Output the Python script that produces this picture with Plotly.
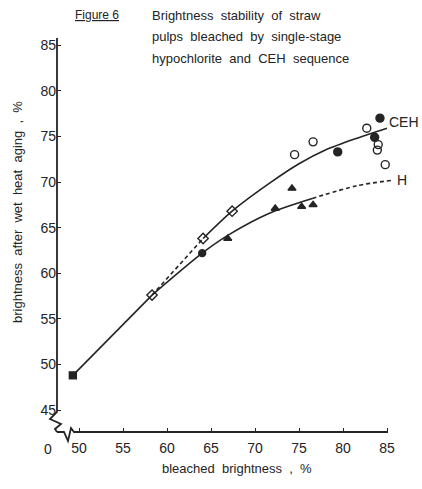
import plotly.graph_objects as go

# ---------------- data ----------------
start_x = [49.3]
start_y = [48.8]

ceh_open_x = [74.5, 76.6, 82.7, 84.0, 83.9, 84.8]
ceh_open_y = [73.0, 74.4, 75.9, 74.1, 73.5, 71.9]
ceh_filled_x = [79.4, 83.6, 84.2]
ceh_filled_y = [73.3, 74.9, 77.0]
ceh_diamond_x = [58.3, 64.1, 67.4]
ceh_diamond_y = [57.6, 63.8, 66.8]

h_tri_x = [66.9, 72.3, 74.2, 75.3, 76.6]
h_tri_y = [63.8, 67.1, 69.3, 67.3, 67.5]
h_dot_x = [64.0]
h_dot_y = [62.2]

common_x = [49.3, 58.3]
common_y = [48.8, 57.6]
ceh_dash_x = [58.3, 64.1]
ceh_dash_y = [57.6, 63.8]
ceh_curve_x = [64.1, 67.4, 71.7, 75.0, 78.0, 81.6, 85.0]
ceh_curve_y = [63.8, 66.8, 69.9, 72.0, 73.5, 74.8, 75.9]
h_curve_x = [58.3, 64.0, 67.0, 71.7, 76.5]
h_curve_y = [57.6, 62.2, 64.2, 66.6, 68.2]
h_dash_x = [76.5, 81.6, 85.7]
h_dash_y = [68.2, 69.6, 70.2]

x_ticks = [50, 55, 60, 65, 70, 75, 80, 85]
y_ticks = [45, 50, 55, 60, 65, 70, 75, 80, 85]

INK = "#242424"
FONT = "Liberation Sans"

# plot area in pixels
L, R, T, B = 57, 396, 38, 432
W, H = 422, 489


def px(x):
    return (x - L) / (R - L)


def py(y):
    return (B - y) / (B - T)


fig = go.Figure()


def line(xs, ys, dash="solid"):
    fig.add_trace(go.Scatter(x=xs, y=ys, mode="lines", line_shape="spline",
                             line=dict(color=INK, width=1.6, dash=dash, smoothing=0.8),
                             hoverinfo="skip", showlegend=False))


line(common_x, common_y)
line(ceh_dash_x, ceh_dash_y, "4px,3px")
line(ceh_curve_x, ceh_curve_y)
line(h_curve_x, h_curve_y)
line(h_dash_x, h_dash_y, "4px,3px")


def pts(xs, ys, symbol, size, width=1.4):
    fig.add_trace(go.Scatter(x=xs, y=ys, mode="markers",
                             marker=dict(symbol=symbol, size=size, color=INK,
                                         line=dict(color=INK, width=width)),
                             showlegend=False, cliponaxis=False))


pts(start_x, start_y, "square", 7)
pts(ceh_open_x, ceh_open_y, "circle-open", 8)
pts(ceh_filled_x, ceh_filled_y, "circle", 8)
pts(ceh_diamond_x, ceh_diamond_y, "diamond-open", 8)
pts(h_tri_x, h_tri_y, "triangle-up", 7)
pts(h_dot_x, h_dot_y, "circle", 7)

x0 = 47.5
x1 = 55 + (R - 123) / 8.8
y0 = 45 - (B - 410) / 9.12
y1 = 45 + (410 - T) / 9.12

fig.update_xaxes(range=[x0, x1], showline=False, showgrid=False, zeroline=False,
                 tickvals=x_ticks, ticks="inside", ticklen=4, tickwidth=1.4,
                 tickcolor=INK, ticklabelstandoff=6,
                 tickfont=dict(family=FONT, size=14, color=INK))
fig.update_yaxes(range=[y0, y1], showline=False, showgrid=False, zeroline=False,
                 tickvals=y_ticks, ticks="inside", ticklen=4, tickwidth=1.4,
                 tickcolor=INK, tickfont=dict(family=FONT, size=14, color=INK))


def path(points):
    s = "M " + " L ".join(f"{px(a):.4f},{py(b):.4f}" for a, b in points)
    return s


shapes = [
    dict(type="path", xref="paper", yref="paper",
         path=path([(57, 38), (57, 412), (50, 419), (61, 424), (55, 429), (57, 432)]),
         line=dict(color=INK, width=1.8)),
    dict(type="path", xref="paper", yref="paper",
         path=path([(57, 432), (64, 432), (68, 441), (71, 428), (74, 432), (388, 432)]),
         line=dict(color=INK, width=1.8)),
]

ann = []


def text(t, x, y, size=13, xanchor="left", angle=0):
    ann.append(dict(text=t, x=px(x), y=py(y), xref="paper", yref="paper",
                    showarrow=False, xanchor=xanchor, yanchor="middle",
                    textangle=angle,
                    font=dict(family=FONT, size=size, color=INK)))


text("0", 48, 449, 14, "center")
text("<u>Figure 6</u>", 73, 15, 12)
text("Brightness  stability  of  straw", 150, 15, 13)
text("pulps  bleached  by  single-stage", 150, 36, 13)
text("hypochlorite  and  CEH  sequence", 150, 58, 13)
text("CEH", 387, 122, 14)
text("H", 395, 180, 14)
text("bleached  brightness  ,  %", 237, 468, 13, "center")
text("brightness  after  wet  heat  aging  ,  %", 17, 212, 13, "center", -90)

fig.update_layout(width=W, height=H, margin=dict(l=L, r=W - R, t=T, b=H - B),
                  plot_bgcolor="white", paper_bgcolor="white",
                  shapes=shapes, annotations=ann, showlegend=False)

fig.write_html("out.html")
